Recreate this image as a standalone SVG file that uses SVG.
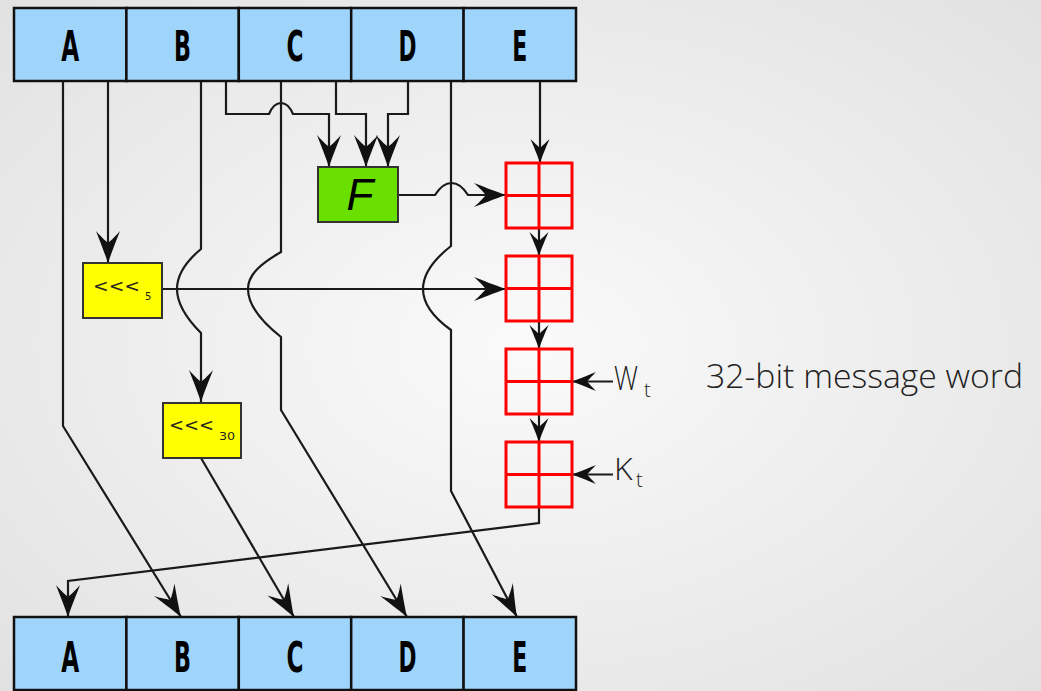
<svg xmlns="http://www.w3.org/2000/svg" width="1041" height="691" viewBox="0 0 1041 691">
<defs>
<radialGradient id="bg" cx="50%" cy="50%" r="72%">
<stop offset="0" stop-color="#fafafa"/>
<stop offset="1" stop-color="#e1e1e1"/>
</radialGradient>
<marker id="ah" markerUnits="userSpaceOnUse" markerWidth="36" markerHeight="28" viewBox="-34 -14 36 28" refX="0" refY="0" orient="auto">
<path d="M0,0 C-12,-4 -24,-9 -32,-12 C-25,-6 -22,-2 -20,0 C-22,2 -25,6 -32,12 C-24,9 -12,4 0,0 Z" fill="#111"/>
</marker>
<marker id="am" markerUnits="userSpaceOnUse" markerWidth="28" markerHeight="22" viewBox="-26 -11 28 22" refX="0" refY="0" orient="auto">
<path d="M0,0 C-9,-3 -18,-7 -24,-9.5 C-19,-4.5 -16.5,-1.5 -15,0 C-16.5,1.5 -19,4.5 -24,9.5 C-18,7 -9,3 0,0 Z" fill="#111"/>
</marker>
</defs>
<style>
.reg rect{fill:#a0d5fb;stroke:#111;stroke-width:2.5}
.reg text{font-family:"DejaVu Sans",sans-serif;font-weight:bold;font-size:43px;text-anchor:middle;fill:#000}
.rot rect{fill:#ffff00;stroke:#333;stroke-width:2}
.rot text{font-family:"DejaVu Sans",sans-serif;fill:#222}
.add rect,.add line{fill:none;stroke:#ff0000;stroke-width:3}
.c path{fill:none;stroke:#1a1a1a;stroke-width:2.2}
.c .big{marker-end:url(#ah)}
.c .med{marker-end:url(#am)}
.lbl{font-family:"Open Sans","Liberation Sans",sans-serif;font-weight:300;fill:#222}
</style>
<rect x="0" y="0" width="1041" height="691" fill="url(#bg)"/>

<g id="connectors" class="c">
<path class="big" d="M63,81 V426 L181,617"/>
<path class="big" d="M108,81 V263"/>
<path class="big" d="M201,81 V249 C189,259 177,272 177,289 C177,306 189,321 201,333 V402"/>
<path class="big" d="M226,81 V114 H269 C272,107 276,103 281,103 C286,103 290,107 293,114 H329 V167"/>
<path class="big" d="M281,81 V252 C262,263 248,274 248,289 C248,306 262,322 281,337 V410 L407,617"/>
<path class="big" d="M336,81 V114 H366 V167"/>
<path class="big" d="M408,81 V114 H388 V167"/>
<path class="big" d="M451,81 V246 C437,257 423,271 423,289 C423,307 437,320 451,330 V491 L517,617"/>
<path class="med" d="M540,81 V163"/>
<path class="big" d="M398,195 H435 C440,187 445,183 451.5,183 C458,183 463,187 468,195 H506"/>
<path class="big" d="M162,289 H506"/>
<path class="big" d="M201,458 L294,617"/>
<path class="med" d="M539,228 V256"/>
<path class="med" d="M539,321 V349"/>
<path class="med" d="M539,414 V442"/>
<path class="med" d="M613,381.5 H572"/>
<path class="med" d="M613,474.5 H572"/>
<path class="big" d="M539,507 V523 L68,581 V617"/>
</g>

<g id="top-register" class="reg">
<g id="top-A"><rect x="14" y="8" width="112.4" height="73"/><text x="70.2" y="61" textLength="18" lengthAdjust="spacingAndGlyphs">A</text></g>
<g id="top-B"><rect x="126.4" y="8" width="112.4" height="73"/><text x="182.6" y="61" textLength="17" lengthAdjust="spacingAndGlyphs">B</text></g>
<g id="top-C"><rect x="238.8" y="8" width="112.4" height="73"/><text x="295" y="61" textLength="17" lengthAdjust="spacingAndGlyphs">C</text></g>
<g id="top-D"><rect x="351.2" y="8" width="112.4" height="73"/><text x="407.4" y="61" textLength="18" lengthAdjust="spacingAndGlyphs">D</text></g>
<g id="top-E"><rect x="463.6" y="8" width="112.4" height="73"/><text x="519.8" y="61" textLength="15" lengthAdjust="spacingAndGlyphs">E</text></g>
</g>

<g id="bottom-register" class="reg">
<g id="bot-A"><rect x="14" y="617" width="112.4" height="73"/><text x="70.2" y="672" textLength="18" lengthAdjust="spacingAndGlyphs">A</text></g>
<g id="bot-B"><rect x="126.4" y="617" width="112.4" height="73"/><text x="182.6" y="672" textLength="17" lengthAdjust="spacingAndGlyphs">B</text></g>
<g id="bot-C"><rect x="238.8" y="617" width="112.4" height="73"/><text x="295" y="672" textLength="17" lengthAdjust="spacingAndGlyphs">C</text></g>
<g id="bot-D"><rect x="351.2" y="617" width="112.4" height="73"/><text x="407.4" y="672" textLength="18" lengthAdjust="spacingAndGlyphs">D</text></g>
<g id="bot-E"><rect x="463.6" y="617" width="112.4" height="73"/><text x="519.8" y="672" textLength="15" lengthAdjust="spacingAndGlyphs">E</text></g>
</g>

<g id="F">
<rect x="318" y="167" width="80" height="55" fill="#6ae000" stroke="#333" stroke-width="2"/>
<text x="360" y="210" text-anchor="middle" font-family="Liberation Sans, sans-serif" font-style="italic" font-size="44" fill="#000">F</text>
</g>

<g id="rot5" class="rot">
<rect x="83" y="263" width="79" height="55"/>
<text x="93" y="292" font-size="17" textLength="47" lengthAdjust="spacingAndGlyphs">&lt;&lt;&lt;</text>
<text x="145" y="300" font-size="10">5</text>
</g>

<g id="rot30" class="rot">
<rect x="163" y="403" width="78" height="55"/>
<text x="169" y="431" font-size="17" textLength="45" lengthAdjust="spacingAndGlyphs">&lt;&lt;&lt;</text>
<text x="219" y="440" font-size="10" textLength="16" lengthAdjust="spacingAndGlyphs">30</text>
</g>

<g id="add1" class="add"><rect x="506" y="163" width="66" height="65"/><line x1="539" y1="163" x2="539" y2="228"/><line x1="506" y1="195.5" x2="572" y2="195.5"/></g>
<g id="add2" class="add"><rect x="506" y="256" width="66" height="65"/><line x1="539" y1="256" x2="539" y2="321"/><line x1="506" y1="288.5" x2="572" y2="288.5"/></g>
<g id="add3" class="add"><rect x="506" y="349" width="66" height="65"/><line x1="539" y1="349" x2="539" y2="414"/><line x1="506" y1="381.5" x2="572" y2="381.5"/></g>
<g id="add4" class="add"><rect x="506" y="442" width="66" height="65"/><line x1="539" y1="442" x2="539" y2="507"/><line x1="506" y1="474.5" x2="572" y2="474.5"/></g>

<g id="Wt"><text class="lbl" x="614" y="390" font-size="33" textLength="24" lengthAdjust="spacingAndGlyphs">W</text><text class="lbl" x="644" y="397" font-size="20">t</text></g>
<g id="Kt"><text class="lbl" x="614" y="480" font-size="32">K</text><text class="lbl" x="636" y="487" font-size="20">t</text></g>
<g id="note"><text class="lbl" x="706" y="388" font-size="33" textLength="317" lengthAdjust="spacingAndGlyphs" fill="#444">32-bit message word</text></g>
</svg>
